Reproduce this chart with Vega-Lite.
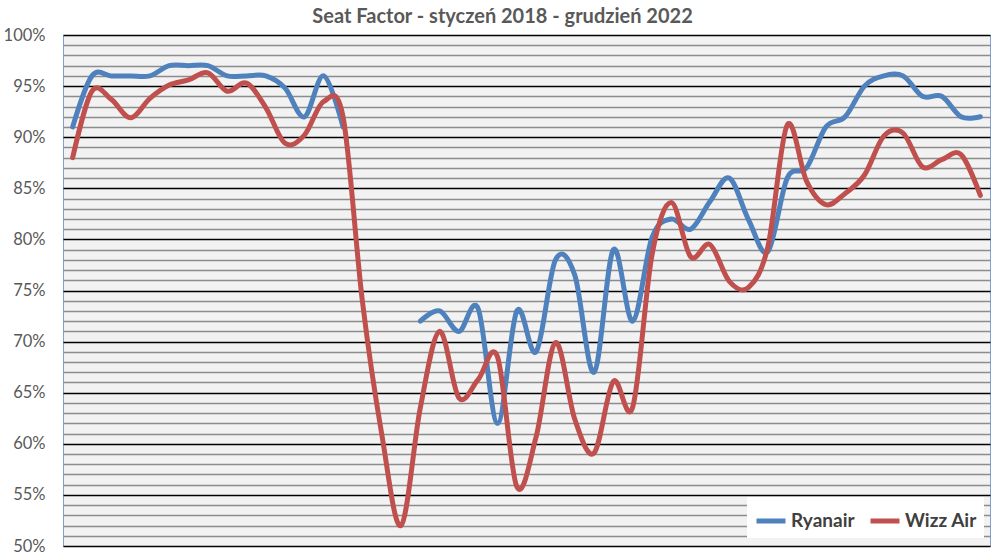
{
  "$schema": "https://vega.github.io/schema/vega-lite/v6.json",
  "width": 927,
  "height": 511,
  "autosize": {"type": "none"},
  "padding": {"left": 63, "top": 35, "right": 10, "bottom": 10},
  "background": "white",
  "title": {"text": "Seat Factor - styczeń 2018 - grudzień 2022", "font": "Lato", "fontSize": 20, "fontWeight": "bold", "color": "#595959", "anchor": "middle", "frame": "bounds", "offset": 0, "dx": 6},
  "data": {"values": [
    {"m":0,"a":"Ryanair","v":91},{"m":1,"a":"Ryanair","v":96},{"m":2,"a":"Ryanair","v":96},{"m":3,"a":"Ryanair","v":96},{"m":4,"a":"Ryanair","v":96},{"m":5,"a":"Ryanair","v":97},{"m":6,"a":"Ryanair","v":97},{"m":7,"a":"Ryanair","v":97},{"m":8,"a":"Ryanair","v":96},{"m":9,"a":"Ryanair","v":96},{"m":10,"a":"Ryanair","v":96},{"m":11,"a":"Ryanair","v":94.8},{"m":12,"a":"Ryanair","v":92},{"m":13,"a":"Ryanair","v":96},{"m":14,"a":"Ryanair","v":91},{"m":15,"a":"Ryanair","v":null},{"m":16,"a":"Ryanair","v":null},{"m":17,"a":"Ryanair","v":null},{"m":18,"a":"Ryanair","v":72},{"m":19,"a":"Ryanair","v":73},{"m":20,"a":"Ryanair","v":71},{"m":21,"a":"Ryanair","v":73.2},{"m":22,"a":"Ryanair","v":62},{"m":23,"a":"Ryanair","v":73},{"m":24,"a":"Ryanair","v":69},{"m":25,"a":"Ryanair","v":78},{"m":26,"a":"Ryanair","v":76.5},{"m":27,"a":"Ryanair","v":67},{"m":28,"a":"Ryanair","v":79},{"m":29,"a":"Ryanair","v":72},{"m":30,"a":"Ryanair","v":80.2},{"m":31,"a":"Ryanair","v":82},{"m":32,"a":"Ryanair","v":81},{"m":33,"a":"Ryanair","v":83.7},{"m":34,"a":"Ryanair","v":86},{"m":35,"a":"Ryanair","v":81.9},{"m":36,"a":"Ryanair","v":78.8},{"m":37,"a":"Ryanair","v":86},{"m":38,"a":"Ryanair","v":87},{"m":39,"a":"Ryanair","v":91},{"m":40,"a":"Ryanair","v":92},{"m":41,"a":"Ryanair","v":95},{"m":42,"a":"Ryanair","v":96},{"m":43,"a":"Ryanair","v":96},{"m":44,"a":"Ryanair","v":94},{"m":45,"a":"Ryanair","v":94},{"m":46,"a":"Ryanair","v":92},{"m":47,"a":"Ryanair","v":92},
    {"m":0,"a":"Wizz Air","v":88},{"m":1,"a":"Wizz Air","v":94.5},{"m":2,"a":"Wizz Air","v":93.7},{"m":3,"a":"Wizz Air","v":91.9},{"m":4,"a":"Wizz Air","v":93.8},{"m":5,"a":"Wizz Air","v":95.1},{"m":6,"a":"Wizz Air","v":95.6},{"m":7,"a":"Wizz Air","v":96.3},{"m":8,"a":"Wizz Air","v":94.5},{"m":9,"a":"Wizz Air","v":95.3},{"m":10,"a":"Wizz Air","v":92.9},{"m":11,"a":"Wizz Air","v":89.4},{"m":12,"a":"Wizz Air","v":90.2},{"m":13,"a":"Wizz Air","v":93.5},{"m":14,"a":"Wizz Air","v":92},{"m":15,"a":"Wizz Air","v":74},{"m":16,"a":"Wizz Air","v":61},{"m":17,"a":"Wizz Air","v":52},{"m":18,"a":"Wizz Air","v":63.5},{"m":19,"a":"Wizz Air","v":71},{"m":20,"a":"Wizz Air","v":64.5},{"m":21,"a":"Wizz Air","v":66.3},{"m":22,"a":"Wizz Air","v":68.5},{"m":23,"a":"Wizz Air","v":55.8},{"m":24,"a":"Wizz Air","v":60.7},{"m":25,"a":"Wizz Air","v":69.9},{"m":26,"a":"Wizz Air","v":62.4},{"m":27,"a":"Wizz Air","v":59.1},{"m":28,"a":"Wizz Air","v":66.1},{"m":29,"a":"Wizz Air","v":63.6},{"m":30,"a":"Wizz Air","v":78.5},{"m":31,"a":"Wizz Air","v":83.6},{"m":32,"a":"Wizz Air","v":78.3},{"m":33,"a":"Wizz Air","v":79.5},{"m":34,"a":"Wizz Air","v":75.9},{"m":35,"a":"Wizz Air","v":75.3},{"m":36,"a":"Wizz Air","v":79.3},{"m":37,"a":"Wizz Air","v":91.2},{"m":38,"a":"Wizz Air","v":85.7},{"m":39,"a":"Wizz Air","v":83.4},{"m":40,"a":"Wizz Air","v":84.5},{"m":41,"a":"Wizz Air","v":86.3},{"m":42,"a":"Wizz Air","v":90.1},{"m":43,"a":"Wizz Air","v":90.4},{"m":44,"a":"Wizz Air","v":87.1},{"m":45,"a":"Wizz Air","v":87.8},{"m":46,"a":"Wizz Air","v":88.3},{"m":47,"a":"Wizz Air","v":84.3}
  ]},
  "mark": {"type": "line", "interpolate": "cardinal", "strokeWidth": 5, "strokeCap": "round", "strokeJoin": "round", "invalid": "break-paths-show-domains"},
  "encoding": {
    "x": {"field": "m", "type": "quantitative", "scale": {"domain": [-0.5, 47.5], "nice": false, "zero": false}, "axis": null},
    "y": {"field": "v", "type": "quantitative", "scale": {"domain": [50, 100], "nice": false, "zero": false},
      "axis": {"values": [50,51,52,53,54,55,56,57,58,59,60,61,62,63,64,65,66,67,68,69,70,71,72,73,74,75,76,77,78,79,80,81,82,83,84,85,86,87,88,89,90,91,92,93,94,95,96,97,98,99,100],
        "grid": true, "gridColor": {"condition": {"test": "datum.value % 5 === 0", "value": "#000000"}, "value": "#8C8C8C"}, "gridWidth": 1.3,
        "ticks": false, "domain": false, "labelOverlap": false, "labelBound": false,
        "labelExpr": "datum.value % 5 === 0 ? datum.value + '%' : ''",
        "labelFont": "Lato", "labelFontSize": 16.5, "labelColor": "#595959", "labelPadding": 18, "title": null}},
    "color": {"field": "a", "type": "nominal", "scale": {"domain": ["Ryanair", "Wizz Air"], "range": ["#4F81BD", "#C0504D"]},
      "legend": {"title": null, "orient": "none", "legendX": 684, "legendY": 462, "direction": "horizontal", "fillColor": "white", "padding": 7,
        "symbolType": "stroke", "symbolStrokeWidth": 5, "symbolSize": 841, "labelFont": "Lato", "labelFontSize": 19, "labelFontWeight": "bold", "labelColor": "#404040", "labelOffset": 3, "columnPadding": 5}}
  },
  "config": {"view": {"fill": "#F2F2F2", "stroke": "#7EA2D4", "strokeWidth": 1}}
}
